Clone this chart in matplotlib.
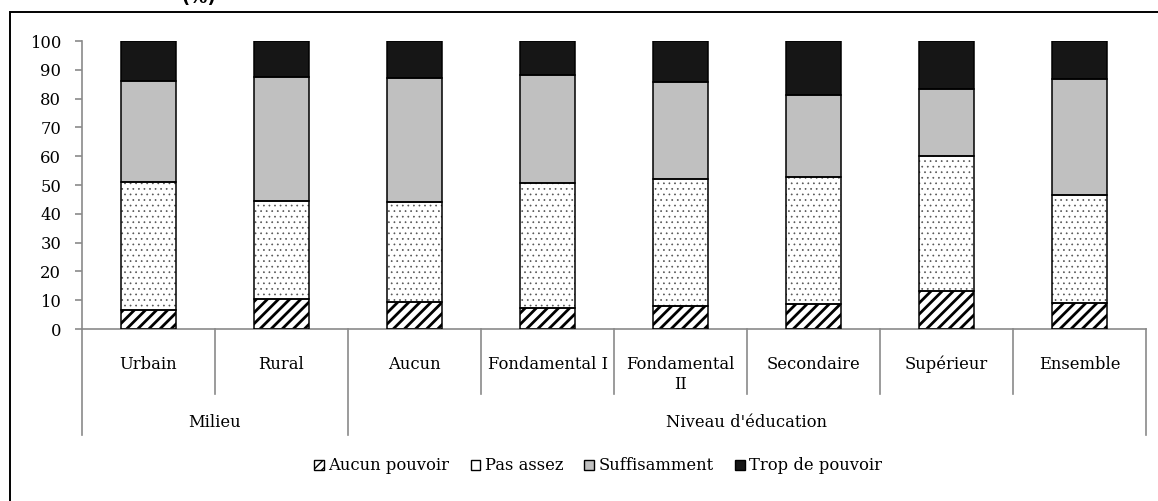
import matplotlib
matplotlib.use("Agg")
import matplotlib.pyplot as plt
from matplotlib.patches import Patch, Rectangle
from matplotlib.lines import Line2D
import matplotlib.transforms as mtransforms

categories = ["Urbain", "Rural", "Aucun", "Fondamental I", "Fondamental\nII",
              "Secondaire", "Supérieur", "Ensemble"]
groups = ["Milieu", "Niveau d'éducation"]
group_sizes = [2, 6]
series_names = ["Aucun pouvoir", "Pas assez", "Suffisamment", "Trop de pouvoir"]
aucun_pouvoir = [6.5, 10.3, 9.4, 7.4, 8.0, 8.8, 13.1, 8.9]
pas_assez = [44.5, 34.0, 34.6, 43.3, 44.0, 44.1, 47.1, 37.6]
suffisamment = [35.0, 43.1, 43.2, 37.6, 33.9, 28.5, 23.0, 40.3]
trop_de_pouvoir = [14.0, 12.6, 12.8, 11.7, 14.1, 18.6, 16.8, 13.2]
yticks = [0, 10, 20, 30, 40, 50, 60, 70, 80, 90, 100]

W, H = 1158, 501
fig = plt.figure(figsize=(W / 100, H / 100), dpi=100)
FONT = "DejaVu Serif"
FS = 11.8
GRAY = "#8a8a8a"

def fx(px):
    return px / W

def fy(py):
    return (H - py) / H

ax = fig.add_axes([fx(82), fy(329), fx(1146) - fx(82), fy(41) - fy(329)])

x = list(range(len(categories)))
bw = 0.41
series = [aucun_pouvoir, pas_assez, suffisamment, trop_de_pouvoir]
styles = [
    dict(facecolor="white", hatch="///", hatchcol="black", hlw=2.0),
    dict(facecolor="white", hatch="...", hatchcol="#555555", hlw=0.5),
    dict(facecolor="#c0c0c0", hatch=None, hatchcol="#c0c0c0", hlw=1.0),
    dict(facecolor="#161616", hatch=None, hatchcol="#161616", hlw=1.0),
]

bottom = [0.0] * len(categories)
for vals, st in zip(series, styles):
    plt.rcParams["hatch.linewidth"] = st["hlw"]
    ax.bar(x, vals, bw, bottom=bottom, facecolor=st["facecolor"],
           hatch=st["hatch"], edgecolor=st["hatchcol"], linewidth=0, zorder=2)
    ax.bar(x, vals, bw, bottom=bottom, facecolor="none",
           edgecolor="black", linewidth=1.1, zorder=3)
    bottom = [b + v for b, v in zip(bottom, vals)]

ax.set_xlim(-0.5, len(categories) - 0.5)
ax.set_ylim(0, 100)
ax.set_yticks(yticks)
ax.set_yticklabels([str(t) for t in yticks], fontfamily=FONT, fontsize=FS)
ax.tick_params(axis="y", direction="out", length=5, width=1.2, color=GRAY, pad=10)
ax.set_xticks([])
for s in ["top", "right"]:
    ax.spines[s].set_visible(False)
for s in ["left", "bottom"]:
    ax.spines[s].set_color(GRAY)
    ax.spines[s].set_linewidth(1.2)

# multi-level category axis
trans = mtransforms.blended_transform_factory(ax.transData, fig.transFigure)
inner_bounds = [i + 0.5 for i in range(len(categories) - 1)]
outer_bounds = [-0.5]
acc = -0.5
for gs in group_sizes:
    acc += gs
    outer_bounds.append(acc)
for b in inner_bounds:
    if b in outer_bounds:
        continue
    fig.add_artist(Line2D([b, b], [fy(329), fy(394)], transform=trans,
                          color=GRAY, linewidth=1.2))
for b in outer_bounds:
    fig.add_artist(Line2D([b, b], [fy(329), fy(435)], transform=trans,
                          color=GRAY, linewidth=1.2))
for xi, c in zip(x, categories):
    lines = c.split("\n")
    for k, ln in enumerate(lines):
        fig.text(xi, fy(369 + 20 * k), ln, transform=trans, ha="center",
                 va="baseline", fontfamily=FONT, fontsize=FS)
start = -0.5
for g, gs in zip(groups, group_sizes):
    fig.text(start + gs / 2, fy(427), g, transform=trans, ha="center",
             va="baseline", fontfamily=FONT, fontsize=FS)
    start += gs

# legend
plt.rcParams["hatch.linewidth"] = 1.0
handles = [
    Patch(facecolor="white", edgecolor="black", hatch="////", linewidth=1.0),
    Patch(facecolor="white", edgecolor="black", linewidth=1.0),
    Patch(facecolor="#c0c0c0", edgecolor="black", linewidth=1.0),
    Patch(facecolor="#161616", edgecolor="black", linewidth=1.0),
]
fig.legend(handles, series_names, loc="center", bbox_to_anchor=(fx(598), fy(466)),
           ncol=4, frameon=False, prop=dict(family=FONT, size=FS),
           handlelength=0.6, handleheight=0.6, handletextpad=0.25,
           columnspacing=1.3)

# outer frame (partly outside canvas)
fig.add_artist(Rectangle((fx(10), -0.2), 1.2, fy(12) + 0.2,
                         transform=fig.transFigure, facecolor="none",
                         edgecolor="black", linewidth=1.4))
# cut-off title fragment (clipped at the top, as in the reference)
fig.text(fx(216), fy(3), "(%)", ha="right", va="baseline",
         fontfamily="DejaVu Sans", fontweight="bold", fontsize=13)

fig.savefig("out.png", dpi=100)
